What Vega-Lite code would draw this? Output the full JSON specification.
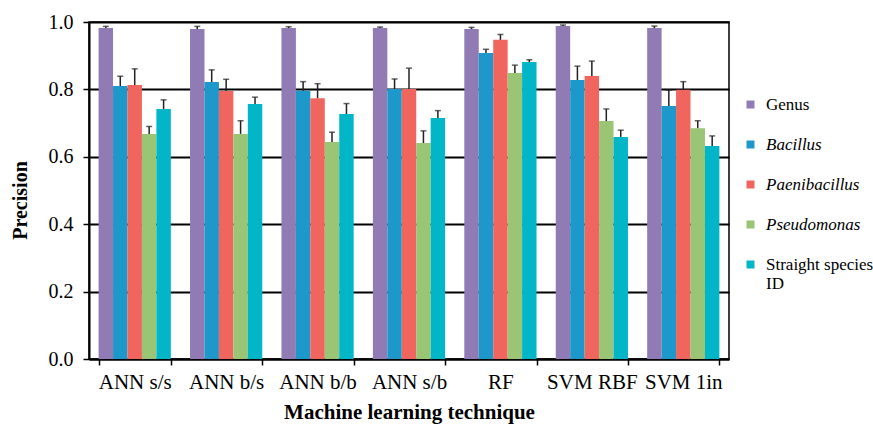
{
  "$schema": "https://vega.github.io/schema/vega-lite/v6.json",
  "autosize": {"type": "none"},
  "padding": {"left": 89, "top": 22, "right": 144, "bottom": 66},
  "width": 640,
  "height": 337,
  "background": "white",
  "config": {
    "font": "Liberation Serif",
    "view": {"stroke": "black", "strokeWidth": 1.5},
    "axis": {"labelFont": "Liberation Serif", "titleFont": "Liberation Serif", "labelColor": "black", "titleColor": "black"},
    "legend": {"labelFont": "Liberation Serif", "titleFont": "Liberation Serif"},
    "text": {"font": "Liberation Serif"}
  },
  "data": {
    "values": [
      {"technique": "ANN s/s", "series": "Genus", "value": 0.982, "err": 0.987},
      {"technique": "ANN s/s", "series": "Bacillus", "value": 0.810, "err": 0.839},
      {"technique": "ANN s/s", "series": "Paenibacillus", "value": 0.813, "err": 0.861},
      {"technique": "ANN s/s", "series": "Pseudomonas", "value": 0.668, "err": 0.690},
      {"technique": "ANN s/s", "series": "Straight species ID", "value": 0.742, "err": 0.769},
      {"technique": "ANN b/s", "series": "Genus", "value": 0.979, "err": 0.987},
      {"technique": "ANN b/s", "series": "Bacillus", "value": 0.822, "err": 0.858},
      {"technique": "ANN b/s", "series": "Paenibacillus", "value": 0.795, "err": 0.830},
      {"technique": "ANN b/s", "series": "Pseudomonas", "value": 0.668, "err": 0.707},
      {"technique": "ANN b/s", "series": "Straight species ID", "value": 0.757, "err": 0.777},
      {"technique": "ANN b/b", "series": "Genus", "value": 0.982, "err": 0.986},
      {"technique": "ANN b/b", "series": "Bacillus", "value": 0.796, "err": 0.823},
      {"technique": "ANN b/b", "series": "Paenibacillus", "value": 0.774, "err": 0.817},
      {"technique": "ANN b/b", "series": "Pseudomonas", "value": 0.644, "err": 0.673},
      {"technique": "ANN b/b", "series": "Straight species ID", "value": 0.727, "err": 0.758},
      {"technique": "ANN s/b", "series": "Genus", "value": 0.982, "err": 0.985},
      {"technique": "ANN s/b", "series": "Bacillus", "value": 0.801, "err": 0.831},
      {"technique": "ANN s/b", "series": "Paenibacillus", "value": 0.801, "err": 0.863},
      {"technique": "ANN s/b", "series": "Pseudomonas", "value": 0.641, "err": 0.677},
      {"technique": "ANN s/b", "series": "Straight species ID", "value": 0.715, "err": 0.737},
      {"technique": "RF", "series": "Genus", "value": 0.979, "err": 0.984},
      {"technique": "RF", "series": "Bacillus", "value": 0.908, "err": 0.919},
      {"technique": "RF", "series": "Paenibacillus", "value": 0.947, "err": 0.963},
      {"technique": "RF", "series": "Pseudomonas", "value": 0.849, "err": 0.872},
      {"technique": "RF", "series": "Straight species ID", "value": 0.881, "err": 0.888},
      {"technique": "SVM RBF", "series": "Genus", "value": 0.988, "err": 0.991},
      {"technique": "SVM RBF", "series": "Bacillus", "value": 0.828, "err": 0.869},
      {"technique": "SVM RBF", "series": "Paenibacillus", "value": 0.840, "err": 0.884},
      {"technique": "SVM RBF", "series": "Pseudomonas", "value": 0.706, "err": 0.742},
      {"technique": "SVM RBF", "series": "Straight species ID", "value": 0.659, "err": 0.679},
      {"technique": "SVM 1in", "series": "Genus", "value": 0.982, "err": 0.988},
      {"technique": "SVM 1in", "series": "Bacillus", "value": 0.751, "err": 0.798},
      {"technique": "SVM 1in", "series": "Paenibacillus", "value": 0.799, "err": 0.823},
      {"technique": "SVM 1in", "series": "Pseudomonas", "value": 0.685, "err": 0.707},
      {"technique": "SVM 1in", "series": "Straight species ID", "value": 0.632, "err": 0.662}
    ]
  },
  "encoding": {
    "x": {
      "field": "technique", "type": "nominal",
      "sort": ["ANN s/s", "ANN b/s", "ANN b/b", "ANN s/b", "RF", "SVM RBF", "SVM 1in"],
      "scale": {"paddingInner": 0.21, "paddingOuter": 0.105},
      "axis": {
        "title": "Machine learning technique", "labelAngle": 0, "labelFontSize": 21,
        "titleFontSize": 21, "titleFontWeight": "bold", "titlePadding": 9,
        "tickBand": "extent", "tickSize": 6, "tickColor": "black", "tickWidth": 1.5,
        "domainColor": "black", "domainWidth": 2, "labelPadding": 6, "grid": false
      }
    },
    "xOffset": {
      "field": "series", "type": "nominal",
      "sort": ["Genus", "Bacillus", "Paenibacillus", "Pseudomonas", "Straight species ID"],
      "scale": {"paddingInner": 0, "paddingOuter": 0}
    }
  },
  "layer": [
    {
      "mark": {"type": "bar"},
      "encoding": {
        "y": {
          "field": "value", "type": "quantitative",
          "scale": {"domain": [0, 1], "nice": false},
          "axis": {
            "title": "Precision", "values": [0, 0.2, 0.4, 0.6, 0.8, 1.0], "format": ".1f",
            "labelFontSize": 20, "titleFontSize": 20, "titleFontWeight": "bold",
            "titlePadding": 18, "titleY": 178, "grid": true, "gridColor": "black", "gridWidth": 2, "gridOpacity": 1,
            "tickSize": 6, "tickColor": "black", "tickWidth": 1.5, "labelPadding": 10,
            "domainColor": "black", "domainWidth": 2
          }
        },
        "color": {
          "field": "series", "type": "nominal",
          "sort": ["Genus", "Bacillus", "Paenibacillus", "Pseudomonas", "Straight species ID"],
          "scale": {
            "domain": ["Genus", "Bacillus", "Paenibacillus", "Pseudomonas", "Straight species ID"],
            "range": ["#917BB4", "#1E97CA", "#F0655E", "#99C574", "#02B6C7"]
          },
          "legend": {
            "title": null, "orient": "none", "legendX": 653, "legendY": 74, "padding": 0,
            "symbolType": "square", "symbolSize": 64, "symbolStrokeWidth": 0, "symbolOpacity": 1,
            "labelFont": {"expr": "'Liberation Serif'"}, "labelFontSize": 17, "labelColor": "black",
            "labelOffset": 7, "rowPadding": 22, "labelLimit": 200, "labelBaseline": "middle",
            "labelFontStyle": {"expr": "datum.label == 'Genus' || datum.label == 'Straight species ID' ? 'normal' : 'italic'"},
            "labelExpr": "datum.label == 'Straight species ID' ? ['Straight species', 'ID'] : datum.label"
          }
        }
      }
    },
    {
      "mark": {"type": "rule", "color": "#222222", "strokeWidth": 1.5},
      "encoding": {
        "y": {"field": "value", "type": "quantitative"},
        "y2": {"field": "err"}
      }
    },
    {
      "mark": {"type": "tick", "color": "#222222", "thickness": 1.5, "size": 6, "orient": "horizontal"},
      "encoding": {
        "y": {"field": "err", "type": "quantitative"}
      }
    }
  ]
}
